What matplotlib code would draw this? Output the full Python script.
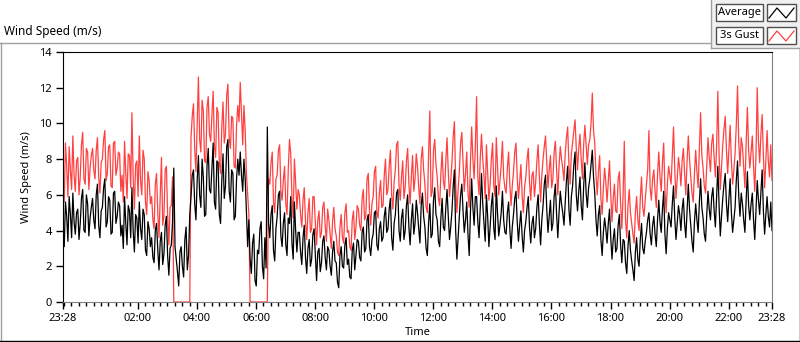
import numpy as np
import pandas as pd
import matplotlib
matplotlib.use("Agg")
from matplotlib import pyplot as plt
import matplotlib.dates as mdates
from matplotlib.lines import Line2D
from matplotlib.patches import Rectangle

plt.rcParams['font.family'] = ['Noto Sans', 'DejaVu Sans']

# 2.5 minute samples from 23:28, two lines per hour
average = [
    4.2, 3.1, 5.6, 4.8, 3.4, 5.9, 4.9, 3.6, 6.1, 4.5, 3.8, 5.0,
    5.2, 3.5, 4.4, 5.8, 6.3, 4.0, 3.9, 6.0, 5.5, 3.7, 4.7, 5.3,
    5.8, 4.6, 4.1, 6.0, 6.6, 4.3, 3.6, 5.1, 5.3, 6.4, 6.9, 4.2,
    4.5, 5.9, 5.7, 3.8, 3.9, 6.1, 6.2, 4.4, 4.8, 5.6, 5.4, 3.7,
    4.3, 3.0, 5.9, 4.4, 3.2, 5.4, 5.1, 3.6, 6.4, 4.0, 2.8, 4.9,
    4.7, 3.3, 5.6, 4.1, 3.5, 5.2, 4.9, 2.9, 2.6, 4.5, 4.1, 3.1,
    3.6, 2.5, 2.2, 4.0, 4.4, 2.9, 1.8, 3.4, 3.9, 2.1, 2.7, 4.3,
    4.8, 2.6, 1.5, 3.0, 3.2, 4.5, 7.5, 3.1, 2.4, 1.7, 0.9, 2.8,
    3.1, 2.0, 1.4, 3.5, 4.2, 1.8, 2.6, 4.9, 5.9, 7.1, 7.4, 5.5,
    4.6, 6.8, 8.2, 6.0, 5.3, 8.0, 7.0, 4.8, 4.9, 7.6, 8.6, 6.3,
    6.1, 7.5, 8.9, 5.6, 5.2, 7.9, 7.8, 4.9, 4.4, 6.8, 8.3, 5.8,
    6.5, 8.7, 9.1, 6.2, 5.6, 7.4, 7.2, 4.6, 4.8, 6.9, 8.0, 7.1,
    8.4, 7.1, 6.2, 8.0, 6.9, 5.1, 3.1, 4.6, 2.4, 1.6, 3.3, 3.8,
    1.2, 0.9, 2.9, 2.7, 4.1, 4.5, 2.0, 1.3, 3.6, 1.9, 9.8, 4.4,
    3.6, 4.9, 5.4, 2.9, 2.3, 4.1, 4.8, 6.0, 6.2, 3.7, 3.1, 4.4,
    5.0, 3.2, 2.6, 4.7, 4.4, 5.9, 3.3, 2.4, 5.6, 4.0, 2.8, 3.9,
    3.9, 2.8, 2.1, 3.6, 4.3, 2.5, 1.6, 3.0, 3.5, 2.0, 2.4, 3.8,
    4.1, 2.6, 1.2, 2.8, 3.0, 1.7, 2.2, 3.4, 3.7, 2.5, 1.8, 3.1,
    2.9, 2.0, 1.5, 2.8, 3.4, 2.3, 2.2, 1.1, 0.8, 2.6, 3.1, 2.0,
    1.9, 3.2, 3.6, 2.1, 2.4, 1.4, 1.3, 2.9, 3.3, 1.8, 2.6, 3.5,
    3.4, 2.5, 2.3, 3.9, 4.2, 2.8, 3.0, 4.6, 4.9, 3.1, 2.6, 3.5,
    3.8, 5.0, 5.1, 3.2, 2.9, 4.1, 4.5, 3.4, 3.6, 4.8, 5.3, 3.9,
    4.1, 5.2, 5.8, 3.6, 2.9, 4.4, 4.9, 6.1, 6.3, 4.0, 3.4, 4.7,
    5.2, 3.5, 4.0, 5.4, 6.0, 4.2, 3.2, 4.6, 5.5, 3.8, 4.4, 5.7,
    5.0, 4.1, 3.3, 5.4, 6.1, 4.8, 4.2, 3.0, 2.6, 4.4, 5.5, 3.6,
    3.8, 5.7, 6.4, 4.9, 4.6, 3.4, 3.1, 4.7, 5.8, 4.2, 4.0, 5.3,
    6.3, 4.8, 3.5, 4.2, 5.1, 6.5, 7.4, 4.0, 2.4, 3.6, 4.8, 6.0,
    6.6, 5.1, 3.9, 4.6, 5.6, 3.8, 2.6, 5.0, 6.9, 5.3, 4.3, 5.9,
    5.9, 4.5, 3.6, 5.3, 7.2, 5.5, 4.4, 3.4, 6.0, 4.8, 3.1, 4.2,
    5.4, 6.1, 4.1, 3.5, 6.5, 5.0, 3.7, 4.3, 5.0, 6.2, 4.6, 3.9,
    3.8, 5.0, 5.6, 4.1, 3.0, 4.2, 4.9, 5.8, 6.2, 4.5, 3.4, 4.3,
    5.1, 3.7, 2.8, 4.0, 4.5, 5.3, 5.9, 4.2, 3.3, 4.4, 4.8, 3.6,
    4.1, 5.3, 6.0, 4.4, 3.2, 4.6, 5.4, 6.6, 7.1, 5.2, 3.9, 4.8,
    5.7, 4.0, 4.4, 5.9, 6.6, 4.9, 3.6, 5.0, 6.2, 5.5, 5.0, 4.3,
    5.6, 6.8, 7.6, 5.2, 4.3, 5.9, 6.5, 7.7, 8.4, 6.0, 5.1, 6.2,
    7.0, 5.4, 4.6, 6.5, 7.8, 6.1, 5.3, 6.4, 6.9, 7.7, 8.5, 7.0,
    6.1, 4.6, 3.7, 4.9, 5.4, 3.5, 2.6, 3.9, 4.7, 4.1, 3.3, 4.4,
    5.2, 3.6, 2.4, 3.5, 4.1, 2.8, 3.0, 4.3, 4.9, 3.2, 2.2, 3.5,
    3.4, 2.2, 1.6, 3.1, 4.0, 2.9, 2.3, 1.8, 1.2, 2.8, 3.6, 2.4,
    2.0, 3.5, 4.4, 3.0, 2.7, 3.4, 3.9, 4.6, 5.0, 3.8, 3.2, 4.3,
    4.8, 3.8, 3.1, 4.6, 5.7, 4.5, 3.9, 5.2, 6.2, 3.8, 2.7, 4.1,
    5.0, 4.6, 4.2, 5.5, 6.5, 4.7, 3.5, 4.4, 5.4, 4.9, 4.0, 5.2,
    5.8, 4.4, 3.6, 5.1, 6.6, 5.2, 4.3, 3.4, 2.8, 4.5, 5.5, 4.6,
    3.9, 5.6, 6.9, 5.3, 4.7, 3.8, 3.4, 4.9, 6.2, 5.2, 4.6, 5.9,
    6.4, 5.1, 4.2, 5.9, 7.6, 5.4, 3.7, 4.8, 5.8, 6.6, 7.2, 5.5,
    4.5, 5.8, 6.9, 5.0, 3.9, 4.6, 5.3, 6.8, 7.9, 5.9, 4.8, 6.1,
    5.5, 4.6, 3.9, 5.7, 7.3, 5.4, 4.6, 5.5, 6.1, 4.6, 3.5, 5.2,
    6.8, 5.7, 4.9, 6.2, 7.4, 5.1, 3.8, 4.9, 5.9, 4.8, 4.2, 5.6,
    4.0,
]

gust = [
    6.8, 5.6, 8.9, 7.6, 5.9, 8.7, 7.4, 6.3, 9.3, 7.1, 6.2, 7.9,
    8.1, 6.0, 7.0, 8.8, 9.5, 6.9, 6.6, 8.6, 8.4, 6.3, 7.5, 8.2,
    8.6, 7.4, 6.9, 8.5, 9.2, 7.0, 6.1, 7.8, 8.0, 9.1, 9.6, 6.8,
    7.2, 8.7, 8.8, 6.5, 6.4, 8.9, 9.0, 7.1, 7.5, 8.4, 8.3, 6.2,
    7.1, 5.6, 9.0, 7.2, 5.8, 8.3, 8.2, 6.4, 10.6, 7.0, 5.2, 7.7,
    7.9, 5.9, 9.3, 6.8, 6.0, 8.5, 8.0, 5.6, 4.9, 7.3, 6.8, 5.5,
    5.9, 4.6, 4.1, 6.6, 7.2, 5.0, 3.6, 6.0, 8.1, 4.3, 4.8, 7.4,
    7.6, 4.9, 3.2, 5.3, 5.4, 7.0, 0.0, 0.0, 0.0, 0.0, 0.0, 0.0,
    0.0, 0.0, 0.0, 0.0, 0.0, 0.0, 0.0, 0.0, 9.2, 10.4, 11.1, 8.6,
    7.3, 10.0, 12.6, 9.1, 8.4, 11.3, 10.7, 7.9, 7.8, 10.9, 11.5, 9.4,
    9.0, 10.5, 11.8, 8.7, 8.1, 10.9, 10.6, 7.8, 7.2, 9.8, 11.2, 8.9,
    9.4, 11.6, 12.2, 9.2, 8.6, 10.4, 10.3, 7.6, 7.5, 9.9, 11.0, 10.1,
    12.3, 10.6, 8.8, 11.0, 9.6, 7.2, 6.0, 4.9, 0.0, 0.0, 0.0, 0.0,
    0.0, 0.0, 0.0, 0.0, 0.0, 0.0, 0.0, 0.0, 0.0, 0.0, 0.0, 6.9,
    6.6, 7.8, 8.4, 5.6, 5.0, 6.9, 7.1, 8.5, 8.8, 6.2, 5.7, 6.8,
    7.6, 5.5, 4.9, 7.4, 9.1, 8.3, 5.8, 4.7, 8.0, 6.7, 5.2, 6.3,
    6.0, 4.9, 4.2, 5.7, 6.4, 4.5, 3.5, 5.0, 5.8, 3.9, 4.1, 5.9,
    5.9, 4.4, 3.2, 4.6, 5.1, 3.6, 3.9, 5.3, 5.6, 4.3, 3.4, 5.2,
    4.6, 3.8, 3.0, 4.5, 5.3, 4.1, 3.7, 2.8, 2.6, 4.2, 4.9, 3.6,
    3.3, 5.0, 5.5, 3.9, 4.0, 3.1, 2.9, 4.6, 5.1, 3.5, 4.2, 5.4,
    5.2, 4.3, 4.0, 5.8, 6.3, 4.6, 4.8, 6.9, 7.2, 5.1, 4.3, 5.5,
    5.9, 7.3, 7.6, 5.0, 4.7, 6.1, 6.8, 5.3, 5.4, 7.1, 8.0, 6.0,
    6.3, 7.6, 8.5, 6.0, 5.2, 6.7, 7.4, 8.8, 9.0, 6.5, 5.7, 7.0,
    7.9, 5.8, 6.4, 7.9, 8.6, 6.6, 5.5, 7.0, 8.2, 6.2, 6.9, 8.3,
    7.6, 6.4, 5.5, 8.0, 8.7, 7.4, 6.6, 5.3, 5.0, 8.3, 10.7, 5.9,
    6.2, 8.5, 9.1, 7.7, 7.0, 5.8, 5.4, 7.2, 8.4, 6.8, 6.3, 7.9,
    9.2, 7.3, 5.9, 6.8, 7.8, 9.3, 10.1, 6.7, 5.0, 6.3, 7.3, 8.9,
    9.5, 7.9, 6.2, 7.2, 8.4, 6.1, 5.3, 7.8, 9.8, 8.0, 6.9, 8.7,
    11.5, 7.0, 6.0, 8.1, 9.4, 8.0, 7.1, 5.8, 8.8, 7.3, 5.7, 6.6,
    8.0, 8.9, 6.5, 5.9, 9.2, 7.6, 6.0, 6.8, 7.7, 9.0, 7.0, 6.4,
    6.1, 7.5, 8.4, 6.6, 5.4, 6.5, 7.3, 8.4, 8.9, 7.0, 5.8, 6.7,
    7.7, 6.0, 5.0, 6.4, 7.0, 8.0, 8.6, 6.7, 5.7, 7.1, 7.3, 5.9,
    6.7, 7.9, 8.8, 7.0, 5.6, 7.1, 8.0, 8.7, 9.3, 7.8, 6.4, 7.4,
    8.2, 6.4, 6.9, 8.4, 9.0, 7.4, 6.0, 7.6, 8.7, 8.0, 7.5, 6.8,
    8.3, 9.2, 9.8, 7.7, 6.6, 8.3, 8.9, 9.6, 10.2, 8.6, 7.4, 8.6,
    9.4, 8.0, 6.9, 8.8, 9.9, 8.8, 7.7, 8.8, 9.1, 10.0, 11.7, 9.6,
    8.9, 7.1, 6.0, 7.3, 8.2, 5.8, 4.9, 6.4, 7.5, 6.7, 5.6, 6.8,
    7.9, 6.0, 4.5, 5.8, 6.6, 5.1, 5.0, 6.9, 7.3, 5.5, 4.1, 5.9,
    9.0, 4.6, 3.6, 5.4, 6.3, 5.0, 4.4, 3.8, 3.3, 5.0, 5.9, 4.6,
    4.0, 5.8, 7.0, 5.3, 4.8, 5.7, 6.6, 7.4, 9.6, 6.4, 5.7, 6.9,
    7.4, 6.2, 5.3, 7.1, 8.4, 7.0, 6.2, 7.8, 8.9, 6.3, 5.0, 6.6,
    7.6, 7.1, 6.6, 8.2, 9.8, 7.4, 5.8, 6.9, 8.1, 7.5, 6.5, 7.9,
    8.6, 7.2, 6.0, 7.9, 9.3, 8.0, 7.0, 6.1, 5.6, 7.2, 8.5, 7.3,
    6.4, 8.6, 10.6, 8.2, 7.5, 6.5, 6.1, 7.6, 9.2, 8.1, 7.3, 8.9,
    9.4, 8.1, 7.0, 8.7, 11.8, 8.3, 6.3, 7.6, 8.8, 9.7, 10.4, 8.5,
    7.2, 8.6, 9.9, 7.9, 6.6, 7.4, 8.3, 9.9, 12.1, 8.9, 7.6, 9.2,
    8.7, 7.5, 6.4, 8.9, 10.9, 8.5, 7.5, 8.4, 9.3, 7.6, 6.2, 8.3,
    12.0, 9.0, 7.8, 9.4, 10.5, 8.2, 6.4, 7.9, 9.6, 7.9, 7.0, 8.8,
    6.8,
]

series_names = ["Average", "3s Gust"]
time = pd.date_range("2016-03-01 23:28", periods=len(average), freq="150s").to_pydatetime()
hour_ticks = pd.date_range("2016-03-02 02:00", "2016-03-02 22:00", freq="2h").to_pydatetime()

W, H = 800, 342


def fx(x):
    return x / W


def fy(y):
    return 1 - y / H


fig = plt.figure(figsize=(8, 3.42), dpi=100)

# outer frame of the graph
fig.add_artist(Line2D([fx(0), fx(711)], [fy(42.5), fy(42.5)], color='#a0a0a0', lw=1))
fig.add_artist(Line2D([fx(0.5), fx(0.5)], [fy(42.5), fy(342)], color='#a0a0a0', lw=1))
fig.add_artist(Line2D([fx(0), fx(800)], [fy(340.5), fy(340.5)], color='black', lw=1))
fig.add_artist(Line2D([fx(799.5), fx(799.5)], [fy(48), fy(342)], color='black', lw=1))
fig.add_artist(Rectangle((fx(711), fy(48)), fx(89), 48 / H, facecolor='#f0f0f0',
                         edgecolor='none'))
fig.add_artist(Line2D([fx(711), fx(711)], [fy(0), fy(48)], color='#a0a0a0', lw=1))
fig.add_artist(Line2D([fx(711), fx(800)], [fy(48), fy(48)], color='#a0a0a0', lw=1))

fig.text(fx(4), fy(31), "Wind Speed (m/s)", fontsize=8.5, va='center', ha='left')

# legend boxes
colors = ['black', '#ff4040']
for i, name in enumerate(series_names):
    top = 4 + i * 23
    fig.add_artist(Rectangle((fx(715.5), fy(top + 17)), fx(47), 17 / H, facecolor='white',
                             edgecolor='#505050', lw=1))
    fig.text(fx(739), fy(top + 8.5), name, fontsize=8, ha='center', va='center')
    fig.add_artist(Rectangle((fx(766.5), fy(top + 17)), fx(29), 17 / H, facecolor='white',
                             edgecolor='#505050', lw=1))
    fig.add_artist(Line2D([fx(769), fx(777), fx(786), fx(794)],
                          [fy(top + 14), fy(top + 4), fy(top + 14), fy(top + 4)],
                          color=colors[i], lw=0.9))

ax = fig.add_axes([fx(63), fy(302), fx(772 - 63), 250 / H])
ax.plot(time, gust, color='#ff4040', lw=0.9)
ax.plot(time, average, color='black', lw=0.9)

ax.set_xlim(time[0], time[-1])
ax.set_ylim(0, 14)
ax.set_yticks(range(0, 15, 2))
ax.set_xticks([time[0]] + list(hour_ticks) + [time[-1]])
ax.xaxis.set_major_formatter(mdates.DateFormatter('%H:%M'))
ax.xaxis.set_minor_locator(mdates.MinuteLocator(byminute=[0, 15, 30, 45]))
ax.tick_params(axis='both', which='major', direction='out', length=5, width=1,
               labelsize=8, pad=3)
ax.tick_params(axis='x', which='minor', direction='out', length=3, width=1)

for s in ['top', 'left']:
    ax.spines[s].set_color('black')
for s in ['right', 'bottom']:
    ax.spines[s].set_color('#808080')

ax.set_ylabel("Wind Speed (m/s)", fontsize=8, labelpad=5)
ax.set_xlabel("Time", fontsize=8, labelpad=2)

fig.savefig("out.png", dpi=100)
